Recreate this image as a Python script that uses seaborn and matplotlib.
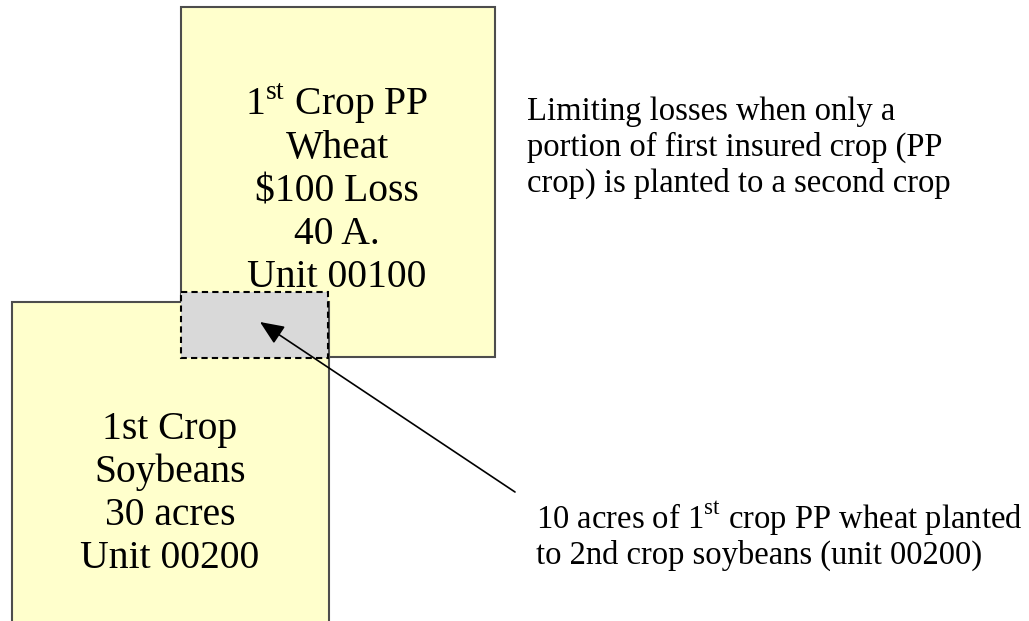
import matplotlib.pyplot as plt
import seaborn as sns
from matplotlib.patches import Rectangle

# diagram text
wheat_lines = ["1$^{\\mathrm{st}}$ Crop PP", "Wheat", "\\$100 Loss", "40 A.", "Unit 00100"]
soy_lines = ["1st Crop", "Soybeans", "30 acres", "Unit 00200"]
note_lines = ["Limiting losses when only a",
              "portion of first insured crop (PP",
              "crop) is planted to a second crop"]
callout_lines = ["10 acres of 1$^{\\mathrm{st}}$ crop PP wheat planted",
                 "to 2nd crop soybeans (unit 00200)"]

sns.set_style("white")
plt.rcParams['font.family'] = ['Liberation Serif', 'DejaVu Serif']
plt.rcParams['mathtext.fontset'] = 'custom'
plt.rcParams['mathtext.rm'] = 'Liberation Serif'
plt.rcParams['text.color'] = 'black'

fig = plt.figure(figsize=(10.29, 6.21), dpi=100)
ax = fig.add_axes([0, 0, 1, 1])
ax.set_xlim(0, 1029)
ax.set_ylim(621, 0)
ax.axis('off')

box_fill = '#FFFFCC'
box_edge = '#4D4D4D'

# top box (wheat)
ax.add_patch(Rectangle((181, 7), 314, 350, facecolor=box_fill,
                       edgecolor=box_edge, lw=1.5, zorder=1))
# bottom box (soybeans) runs off the bottom edge
ax.add_patch(Rectangle((12, 302), 317, 340, facecolor=box_fill,
                       edgecolor=box_edge, lw=1.5, zorder=2))
# overlap area
ax.add_patch(Rectangle((181, 292), 147, 66, facecolor='#D9D9D9',
                       edgecolor='black', lw=1.5, ls=(0, (3, 2)), zorder=4))

for i, s in enumerate(wheat_lines):
    ax.text(337, 115 + i * 43, s, fontsize=28.5, ha='center', va='baseline', zorder=3)
for i, s in enumerate(soy_lines):
    ax.text(170, 439 + i * 43, s, fontsize=28.5, ha='center', va='baseline', zorder=3)
for i, s in enumerate(note_lines):
    ax.text(527, 120 + i * 36, s, fontsize=23.5, ha='left', va='baseline')
for i, s in enumerate(callout_lines):
    ax.text(536, 529 + i * 35, s, fontsize=23.5, ha='left', va='baseline')

ax.annotate("", xy=(260, 322), xytext=(515, 492),
            arrowprops=dict(arrowstyle='-|>,head_length=0.7,head_width=0.3',
                            color='black', lw=1.2,
                            mutation_scale=21, shrinkA=0, shrinkB=0),
            zorder=5)

fig.savefig("out.png", dpi=100)
